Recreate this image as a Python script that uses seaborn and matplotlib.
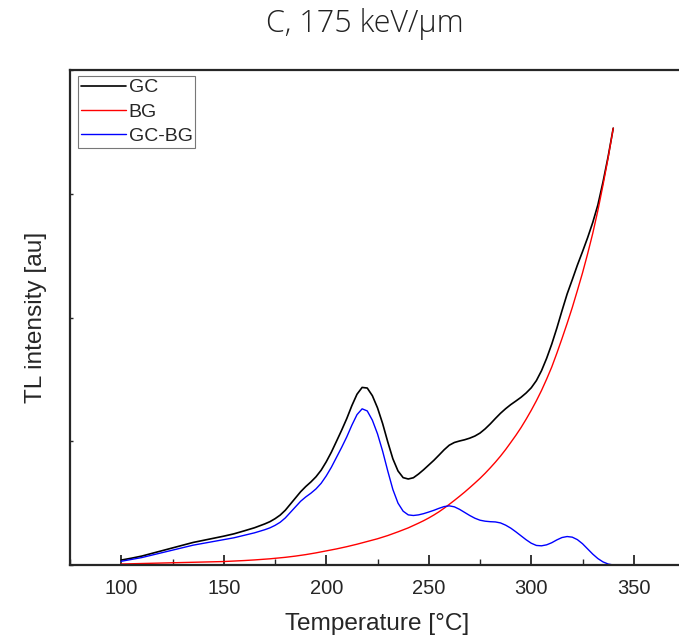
import matplotlib
matplotlib.use("Agg")
import matplotlib.pyplot as plt
import seaborn as sns
import pandas as pd
from matplotlib.ticker import MultipleLocator

temperature = [100, 105, 110, 115, 120, 125, 130, 135, 140, 145, 150, 155, 160, 165,
               170, 172.5, 175, 177.5, 180, 182.5, 185, 187.5, 190, 192.5, 195, 197.5,
               200, 202.5, 205, 207.5, 210, 212.5, 215, 217.5, 220, 222.5, 225, 227.5,
               230, 232.5, 235, 237.5, 240, 242.5, 245, 247.5, 250, 252.5, 255, 257.5,
               260, 262.5, 265, 267.5, 270, 272.5, 275, 277.5, 280, 282.5, 285, 287.5,
               290, 292.5, 295, 297.5, 300, 302.5, 305, 307.5, 310, 312.5, 315, 317.5,
               320, 322.5, 325, 327.5, 330, 332.5, 335, 337.5, 340]

gc = [0.040, 0.055, 0.072, 0.094, 0.116, 0.138, 0.160, 0.182, 0.199, 0.216, 0.233, 0.252,
      0.276, 0.301,
      0.332, 0.350, 0.374, 0.403, 0.442, 0.492, 0.542, 0.592, 0.634, 0.671, 0.713, 0.766,
      0.834, 0.912, 1.000, 1.089, 1.183, 1.288, 1.380, 1.435, 1.430, 1.368, 1.270, 1.143,
      0.995, 0.858, 0.760, 0.706, 0.695, 0.705, 0.735, 0.770, 0.808, 0.846, 0.888, 0.931,
      0.968, 0.990, 1.002, 1.012, 1.025, 1.042, 1.066, 1.100, 1.140, 1.184, 1.226, 1.263,
      1.296, 1.325, 1.355, 1.390, 1.432, 1.490, 1.570, 1.670, 1.785, 1.915, 2.055, 2.190,
      2.305, 2.423, 2.532, 2.645, 2.768, 2.910, 3.095, 3.300, 3.530]

bg = [0.008, 0.010, 0.012, 0.014, 0.016, 0.018, 0.020, 0.022, 0.024, 0.026, 0.028, 0.032,
      0.036, 0.041,
      0.047, 0.050, 0.054, 0.058, 0.062, 0.067, 0.072, 0.078, 0.084, 0.091, 0.098, 0.106,
      0.114, 0.122, 0.130, 0.139, 0.148, 0.158, 0.168, 0.179, 0.190, 0.201, 0.212, 0.225,
      0.238, 0.253, 0.268, 0.284, 0.300, 0.319, 0.338, 0.358, 0.380, 0.404, 0.430, 0.459,
      0.490, 0.522, 0.555, 0.589, 0.625, 0.662, 0.700, 0.741, 0.785, 0.831, 0.880, 0.933,
      0.990, 1.048, 1.110, 1.178, 1.250, 1.327, 1.410, 1.502, 1.600, 1.712, 1.830, 1.952,
      2.080, 2.218, 2.360, 2.515, 2.680, 2.865, 3.070, 3.290, 3.530]

gc_bg = [0.030, 0.045, 0.060, 0.080, 0.100, 0.120, 0.140, 0.160, 0.175, 0.190, 0.205, 0.220,
         0.240, 0.260,
         0.285, 0.300, 0.320, 0.345, 0.380, 0.425, 0.470, 0.515, 0.550, 0.580, 0.615, 0.660,
         0.720, 0.790, 0.870, 0.950, 1.035, 1.130, 1.215, 1.262, 1.245, 1.170, 1.060, 0.920,
         0.760, 0.610, 0.500, 0.435, 0.405, 0.400, 0.405, 0.415, 0.428, 0.442, 0.458, 0.472,
         0.478, 0.470, 0.450, 0.425, 0.400, 0.378, 0.362, 0.354, 0.350, 0.348, 0.340, 0.322,
         0.298, 0.268, 0.236, 0.204, 0.176, 0.158, 0.155, 0.163, 0.180, 0.203, 0.222, 0.230,
         0.225, 0.205, 0.172, 0.130, 0.088, 0.052, 0.025, 0.008, 0.000]

series_names = ["GC", "BG", "GC-BG"]
series_colors = ["#000000", "#ff0000", "#0000ff"]

title = "C, 175 keV/\u03bcm"
xlabel = "Temperature [\u00b0C]"
ylabel = "TL intensity [au]"

sns.set_style("ticks")
plt.rcParams["font.family"] = ["Liberation Sans", "DejaVu Sans"]

series_values = [gc, bg, gc_bg]
widths = [1.2, 1.0, 1.0]

fig = plt.figure(figsize=(6.79, 6.37), dpi=100)
ax = fig.add_axes([70 / 679, 1 - 565 / 637, 615 / 679, 495 / 637])

for name, vals, col, lw in zip(series_names, series_values, series_colors, widths):
    d = pd.DataFrame({"T": temperature, "v": vals})
    sns.lineplot(data=d, x="T", y="v", color=col, linewidth=lw, label=name,
                 ax=ax, sort=False, estimator=None)

ax.set_xlim(75, 375)
ax.set_ylim(0, 4)
ax.xaxis.set_major_locator(MultipleLocator(50))
ax.xaxis.set_minor_locator(MultipleLocator(25))
ax.yaxis.set_major_locator(MultipleLocator(1))
ax.set_yticklabels([])
ax.tick_params(axis="x", which="major", direction="in", length=7, width=1.3,
               labelsize=14.5, pad=10, top=False)
ax.tick_params(axis="x", which="minor", direction="in", length=4, width=1.0, top=False)
ax.tick_params(axis="y", which="major", direction="in", length=2.5, width=1.0, right=False)
for sp in ax.spines.values():
    sp.set_linewidth(1.6)
    sp.set_visible(True)

ax.set_xlabel(xlabel, fontsize=17.6, labelpad=11)
ax.set_ylabel(ylabel, fontsize=17.6, labelpad=13)

leg = ax.legend(loc="upper left", bbox_to_anchor=(0.013, 0.988), borderaxespad=0,
                fontsize=14, handlelength=2.3, handletextpad=0.15, borderpad=0.15,
                labelspacing=0.35, frameon=True, fancybox=False, title=None)
leg.get_frame().set_edgecolor("#555555")
leg.get_frame().set_linewidth(0.8)

fig.text(365 / 679, 1 - 24 / 637, title, ha="center", va="center", fontsize=22,
         family=["Open Sans", "DejaVu Sans"], fontweight="light", color="#222222")

fig.savefig("out.png", dpi=100)
